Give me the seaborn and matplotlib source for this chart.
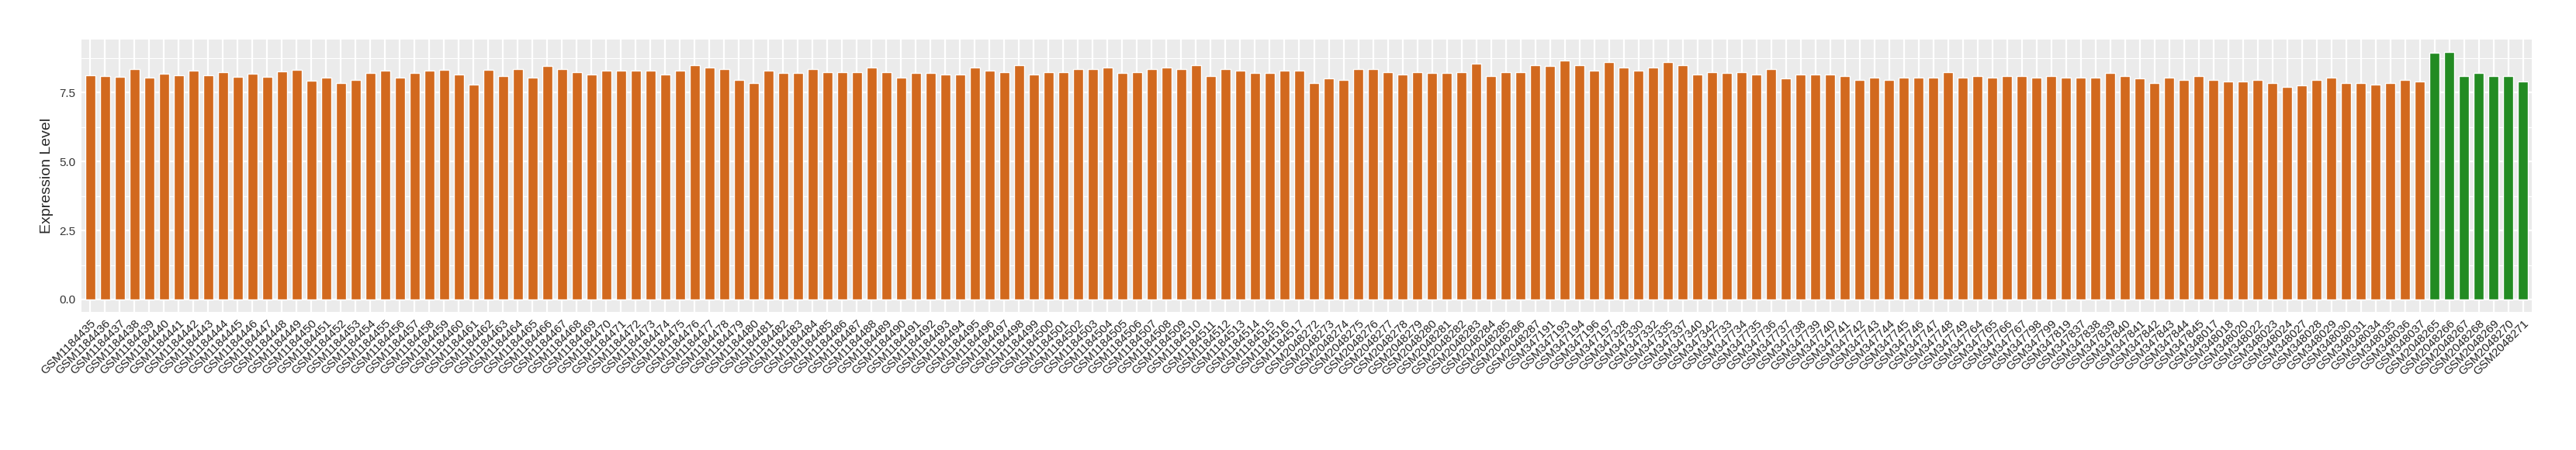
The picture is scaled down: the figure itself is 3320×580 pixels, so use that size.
import pandas as pd
import numpy as np
import matplotlib.pyplot as plt
import seaborn as sns

# =============================
# Données
# =============================
ids_a = [f"GSM{n}" for n in range(1184435, 1184518)]
ids_b = [f"GSM{n}" for n in range(2048272, 2048288)]
ids_c = ["GSM347191", "GSM347193", "GSM347194", "GSM347196", "GSM347197",
         "GSM347328", "GSM347330", "GSM347332", "GSM347335", "GSM347337",
         "GSM347340", "GSM347342", "GSM347733", "GSM347734", "GSM347735",
         "GSM347736", "GSM347737", "GSM347738", "GSM347739", "GSM347740",
         "GSM347741", "GSM347742", "GSM347743", "GSM347744", "GSM347745",
         "GSM347746", "GSM347747", "GSM347748", "GSM347749", "GSM347764",
         "GSM347765", "GSM347766", "GSM347767", "GSM347798", "GSM347799",
         "GSM347819", "GSM347837", "GSM347838", "GSM347839", "GSM347840",
         "GSM347841", "GSM347842", "GSM347843", "GSM347844", "GSM347845",
         "GSM348017", "GSM348018", "GSM348020", "GSM348022", "GSM348023",
         "GSM348024", "GSM348027", "GSM348028", "GSM348029", "GSM348030",
         "GSM348031", "GSM348034", "GSM348035", "GSM348036", "GSM348037"]
ids_d = [f"GSM{n}" for n in range(2048265, 2048272)]

vals_a = [8.14, 8.11, 8.08, 8.36, 8.03, 8.18, 8.14, 8.29, 8.14, 8.24, 8.06, 8.18, 8.06, 8.26, 8.33, 7.93,
          8.05, 7.85, 7.95, 8.20, 8.30, 8.05, 8.20, 8.30, 8.32, 8.15, 7.80, 8.32, 8.10, 8.35, 8.05, 8.45,
          8.35, 8.25, 8.15, 8.30, 8.30, 8.30, 8.30, 8.15, 8.30, 8.50, 8.40, 8.35, 7.95, 7.85, 8.30, 8.20,
          8.20, 8.35, 8.25, 8.25, 8.25, 8.40, 8.25, 8.05, 8.20, 8.20, 8.15, 8.15, 8.40, 8.30, 8.25, 8.50,
          8.15, 8.25, 8.25, 8.35, 8.35, 8.40, 8.20, 8.25, 8.35, 8.40, 8.35, 8.50, 8.10, 8.35, 8.30, 8.20,
          8.20, 8.30, 8.30]
vals_b = [7.85, 8.00, 7.95, 8.35, 8.35, 8.25, 8.15, 8.25, 8.20, 8.20, 8.25, 8.55, 8.10, 8.25, 8.25, 8.50]
vals_c = [8.45, 8.65, 8.50, 8.30, 8.60, 8.40, 8.30, 8.40, 8.60, 8.50,
          8.15, 8.25, 8.20, 8.25, 8.15, 8.35, 8.00, 8.15, 8.15, 8.15,
          8.10, 7.95, 8.05, 7.95, 8.05, 8.05, 8.05, 8.25, 8.05, 8.10,
          8.05, 8.10, 8.10, 8.05, 8.10, 8.05, 8.05, 8.05, 8.20, 8.10,
          8.00, 7.85, 8.05, 7.95, 8.10, 7.95, 7.90, 7.90, 7.95, 7.85,
          7.70, 7.75, 7.95, 8.05, 7.85, 7.85, 7.80, 7.85, 7.95, 7.90]
vals_d = [8.93, 8.97, 8.10, 8.20, 8.10, 8.10, 7.90]

df = pd.DataFrame({
    "sample": ids_a + ids_b + ids_c + ids_d,
    "expr": vals_a + vals_b + vals_c + vals_d,
    "group": ["autre"] * (len(ids_a) + len(ids_b) + len(ids_c)) + ["cible"] * len(ids_d),
})

# =============================
# Figure
# =============================
sns.set_style("darkgrid")
plt.rcParams["font.family"] = ["Liberation Sans", "DejaVu Sans"]

W, H = 3320, 580
fig = plt.figure(figsize=(W / 100, H / 100), dpi=100)
ax = fig.add_axes([105 / W, 1 - 402 / H, (3263 - 105) / W, (402 - 51) / H])

sns.barplot(data=df, x="sample", y="expr", hue="group",
            palette={"autre": "#D2691E", "cible": "#228B22"},
            width=0.7, dodge=False, saturation=1, legend=False, ax=ax)

n = len(df)
ax.set_xlim(-0.6, n - 1 + 0.6)
ax.set_ylim(-0.45, 9.42)
ax.set_facecolor("#EBEBEB")
for s in ax.spines.values():
    s.set_visible(False)

ax.set_yticks([0, 2.5, 5, 7.5])
ax.set_yticklabels(["0.0", "2.5", "5.0", "7.5"])
ax.set_yticks([1.25, 3.75, 6.25, 8.75], minor=True)
ax.grid(which="major", color="white", linewidth=1.6)
ax.grid(which="minor", axis="y", color="white", linewidth=0.8)
ax.set_axisbelow(True)

ax.tick_params(axis="both", which="major", length=3.6, width=0.8,
               color="#333333", pad=2)
ax.tick_params(axis="y", which="minor", length=0)
ax.tick_params(axis="y", labelsize=11, labelcolor="#333333")
ax.tick_params(axis="x", labelsize=11, labelcolor="#222222")
plt.setp(ax.get_xticklabels(), rotation=45, ha="right", va="top",
         rotation_mode="anchor")

ax.set_xlabel("")
ax.set_ylabel("Expression Level", fontsize=14, labelpad=5)

fig.savefig("out.png", dpi=100)
